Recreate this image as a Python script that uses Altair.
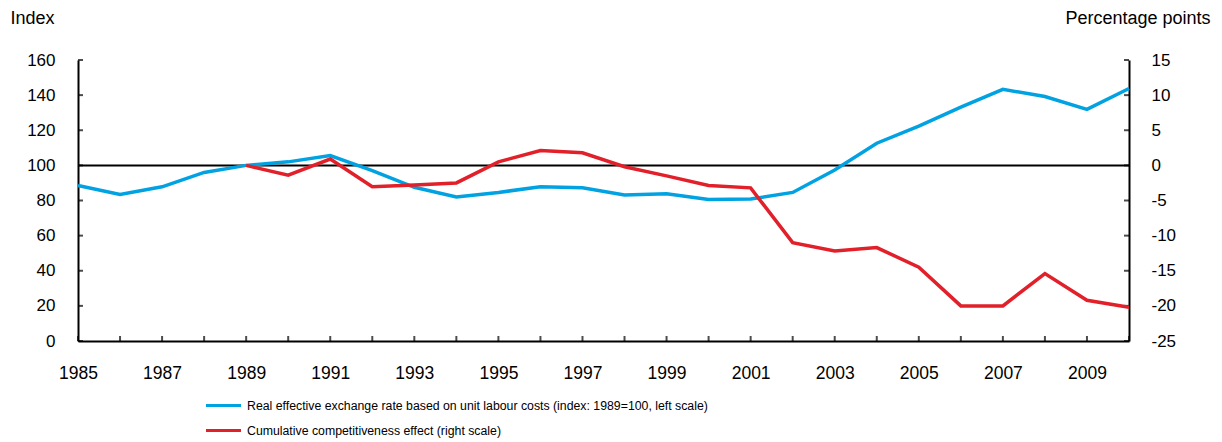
import altair as alt
import pandas as pd

years = list(range(1985, 2011))
reer = [88.5, 83.5, 87.8, 96, 100, 102, 105.6, 97, 87.5, 82, 84.6, 87.8, 87.3, 83.2, 83.9, 80.6, 80.8, 84.6, 97.4, 112.6, 122.4, 133.2, 143.3, 139.2, 131.9, 143.8]
comp_years = list(range(1989, 2011))
comp = [0, -1.4, 0.9, -3.05, -2.8, -2.5, 0.5, 2.1, 1.8, -0.2, -1.5, -2.85, -3.2, -11.0, -12.2, -11.7, -14.5, -20.0, -20.0, -15.4, -19.2, -20.2]

name_a = "Real effective exchange rate based on unit labour costs (index: 1989=100, left scale)"
name_b = "Cumulative competitiveness effect (right scale)"
colors = ["#00A2E2", "#E2202A"]
left_ticks = [0, 20, 40, 60, 80, 100, 120, 140, 160]
right_ticks = [-25, -20, -15, -10, -5, 0, 5, 10, 15]

df_a = pd.DataFrame({"year": years, "value": reer, "series": name_a})
df_b = pd.DataFrame({"year": comp_years, "value": comp, "series": name_b})
df_xt = pd.DataFrame({"year": years, "value": [0] * len(years)})
df_lt = pd.DataFrame({"year": [1985] * len(left_ticks), "value": left_ticks})
df_rt = pd.DataFrame({"year": [2010] * len(right_ticks), "value": right_ticks})
df_rule = pd.DataFrame({"value": [100]})

FONT = "Liberation Sans, Arial, sans-serif"

xscale = alt.Scale(domain=[1985, 2010], nice=False, zero=False)
lscale = alt.Scale(domain=[0, 160], nice=False)
rscale = alt.Scale(domain=[-25, 15], nice=False, zero=False)

x_enc = alt.X(
    "year:Q",
    scale=xscale,
    axis=alt.Axis(
        values=years,
        labelExpr="datum.value % 2 == 1 ? '' + datum.value : ''",
        labelFlush=False,
        title=None,
        labelPadding=23,
        labelFontSize=17.5,
    ),
)

yl_enc = alt.Y(
    "value:Q",
    scale=lscale,
    axis=alt.Axis(
        orient="left",
        values=left_ticks,
        labelExpr="'' + datum.value",
        title="Index",
        titleAngle=0,
        titleAlign="left",
        titleBaseline="alphabetic",
        titleX=-68,
        titleY=-37,
        labelPadding=23,
    ),
)

yr_enc = alt.Y(
    "value:Q",
    scale=rscale,
    axis=alt.Axis(
        orient="right",
        values=right_ticks,
        labelExpr="'' + datum.value",
        title="Percentage points",
        titleAngle=0,
        titleAlign="right",
        titleBaseline="alphabetic",
        titleX=81,
        titleY=-37,
        labelPadding=22,
    ),
)

color_enc = alt.Color(
    "series:N",
    scale=alt.Scale(domain=[name_a, name_b], range=colors),
    legend=alt.Legend(
        title=None,
        orient="none",
        legendX=135,
        legendY=335,
        direction="vertical",
        symbolType="M-2,0H2",
        symbolSize=306,
        symbolStrokeWidth=3,
        labelFont=FONT,
        labelFontSize=12.3,
        labelColor="black",
        labelOffset=13,
        rowPadding=8,
        padding=0,
        labelLimit=800,
    ),
)

rule = alt.Chart(df_rule).mark_rule(color="black", strokeWidth=2).encode(y=yl_enc)

xticks = alt.Chart(df_xt).mark_tick(
    orient="vertical", size=5, thickness=2, color="black", yOffset=-2.5
).encode(x=x_enc, y=yl_enc)

lticks = alt.Chart(df_lt).mark_tick(
    orient="horizontal", size=5, thickness=2, color="black", xOffset=2.5
).encode(x=x_enc, y=yl_enc)

line_a = alt.Chart(df_a).mark_line(strokeWidth=3.5).encode(x=x_enc, y=yl_enc, color=color_enc)

rticks = alt.Chart(df_rt).mark_tick(
    orient="horizontal", size=5, thickness=2, color="black", xOffset=-2.5
).encode(x=x_enc, y=yr_enc)

line_b = alt.Chart(df_b).mark_line(strokeWidth=3.5).encode(x=x_enc, y=yr_enc, color=color_enc)

left_group = alt.layer(rule, xticks, lticks, line_a)
right_group = alt.layer(rticks, line_b)

chart = (
    alt.layer(left_group, right_group)
    .resolve_scale(y="independent")
    .properties(
        width=1051,
        height=281,
        autosize=alt.AutoSizeParams(type="none"),
        padding={"left": 70, "top": 52, "right": 83, "bottom": 100},
    )
    .configure_view(stroke=None)
    .configure_axis(
        grid=False,
        domainColor="black",
        domainWidth=2,
        ticks=False,
        tickSize=0,
        labelFont=FONT,
        labelFontSize=17,
        labelColor="black",
        titleFont=FONT,
        titleFontSize=18,
        titleFontWeight="normal",
        titleColor="black",
    )
)

chart.save("out.html", embed_options={"renderer": "svg", "actions": False})
